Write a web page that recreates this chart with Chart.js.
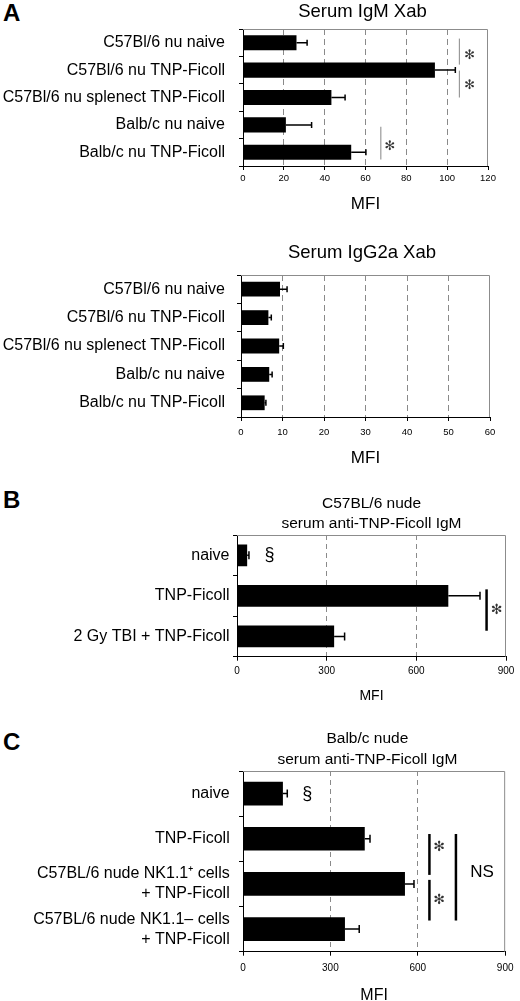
<!DOCTYPE html>
<html>
<head>
<meta charset="utf-8">
<script src="https://cdn.jsdelivr.net/npm/chart.js@4.4.1/dist/chart.umd.min.js"></script>
<style>
  html, body { margin: 0; padding: 0; background: #fff; }
  body { position: relative; width: 520px; height: 1001px; overflow: hidden; font-family: "Liberation Sans", Arial, sans-serif; }
  canvas { position: absolute; left: 0; }
  .tag { position: absolute; left: 3px; font-size: 24px; font-weight: bold; line-height: 1; color: #000; }
</style>
</head>
<body>
<div class="tag" style="top:1px">A</div>
<div class="tag" style="top:488px">B</div>
<div class="tag" style="top:730px">C</div>
<canvas id="igm"   width="520" height="215" style="top:0px"></canvas>
<canvas id="igg2a" width="520" height="229" style="top:240px"></canvas>
<canvas id="panelB" width="520" height="225" style="top:480px"></canvas>
<canvas id="panelC" width="520" height="280" style="top:725px"></canvas>
<script>
// ---- data ----
const mouseGroups = ['C57Bl/6 nu naive', 'C57Bl/6 nu TNP-Ficoll', 'C57Bl/6 nu splenect TNP-Ficoll',
                     'Balb/c nu naive', 'Balb/c nu TNP-Ficoll'];
const igmMean  = [26.2, 94, 43.3, 21, 53];
const igmUpper = [31.4, 104, 50, 33.6, 60.2];
const igmTicks = [0, 20, 40, 60, 80, 100, 120];

const igg2aMean  = [9.4, 6.6, 9.2, 6.8, 5.7];
const igg2aUpper = [11.1, 7.3, 10.2, 7.5, 6.0];
const igg2aTicks = [0, 10, 20, 30, 40, 50, 60];

const bGroups = ['naive', 'TNP-Ficoll', '2 Gy TBI + TNP-Ficoll'];
const bMean   = [34, 707, 325];
const bUpper  = [40, 813, 360];

const cGroups = ['naive', 'TNP-Ficoll',
                 ['C57BL/6 nude NK1.1\u207A cells', '+ TNP-Ficoll'],
                 ['C57BL/6 nude NK1.1\u2013 cells', '+ TNP-Ficoll']];
const cMean   = [137, 418, 556, 350];
const cUpper  = [152, 436, 587, 399];
const mfiTicks = [0, 300, 600, 900];

Chart.defaults.font.family = '"Liberation Sans", Arial, sans-serif';
Chart.defaults.color = '#000';

// error bars, frame, significance marks and titles
const extras = {
  id: 'extras',
  beforeDatasetsDraw(chart) {
    const a = chart.chartArea, c = chart.ctx;
    c.save();
    c.strokeStyle = '#8c8c8c';
    c.lineWidth = 1;
    c.beginPath();
    c.moveTo(a.left, a.top + 0.5);
    c.lineTo(a.right - 0.5, a.top + 0.5);
    c.lineTo(a.right - 0.5, a.bottom);
    c.stroke();
    c.restore();
  },
  afterDatasetsDraw(chart, args, o) {
    const c = chart.ctx, xs = chart.scales.x, ys = chart.scales.y;
    const a = chart.chartArea;
    const vals = chart.data.datasets[0].data;
    c.save();
    c.strokeStyle = '#000';
    c.lineWidth = 1.5;
    o.upper.forEach((u, i) => {
      const y = ys.getPixelForValue(i);
      const x0 = xs.getPixelForValue(vals[i]);
      const x1 = xs.getPixelForValue(u);
      c.beginPath();
      c.moveTo(x0, y); c.lineTo(x1, y);
      c.moveTo(x1, y - o.cap / 2); c.lineTo(x1, y + o.cap / 2);
      c.stroke();
    });
    (o.lines || []).forEach(l => {
      c.strokeStyle = l.color;
      c.lineWidth = l.width;
      const x = xs.getPixelForValue(l.x);
      c.beginPath();
      c.moveTo(x, ys.getPixelForValue(l.from));
      c.lineTo(x, ys.getPixelForValue(l.to));
      c.stroke();
    });
    c.textAlign = 'center';
    c.textBaseline = 'middle';
    (o.texts || []).forEach(t => {
      c.font = t.font;
      c.fillStyle = t.color || '#000';
      c.fillText(t.text, xs.getPixelForValue(t.x), ys.getPixelForValue(t.y));
    });
    c.fillStyle = '#000';
    c.font = o.titleFont;
    const cx = (a.left + a.right) / 2 + o.titleShift;
    o.title.forEach((t, k) => c.fillText(t, cx, o.titleY[k]));
    c.restore();
  }
};
Chart.register(extras);

function panel(id, cats, mean, ticks, geo, extra) {
  const cv = document.getElementById(id);
  const H = cv.height;
  const lo = ticks[0], hi = ticks[ticks.length - 1];
  return new Chart(cv, {
    type: 'bar',
    data: {
      labels: cats,
      datasets: [{ data: mean, backgroundColor: '#000', borderWidth: 0,
                   barPercentage: geo.bar, categoryPercentage: 1 }]
    },
    options: {
      indexAxis: 'y',
      responsive: false,
      animation: false,
      layout: { padding: { top: geo.top, right: 520 - geo.right, left: 0, bottom: 0 } },
      plugins: { legend: { display: false }, tooltip: { enabled: false }, extras: extra },
      scales: {
        x: {
          min: lo, max: hi,
          afterBuildTicks: s => { s.ticks = ticks.map(v => ({ value: v })); },
          afterFit: s => { s.height = H - geo.bottom; },
          grid: {
            color: ctx => (ctx.tick && (ctx.tick.value === lo || ctx.tick.value === hi)) ? 'rgba(0,0,0,0)' : '#8a8a8a',
            tickColor: '#000', tickLength: 4, lineWidth: 1
          },
          border: { color: '#000', dash: geo.dash },
          ticks: { font: { size: geo.tickSize }, color: '#000', padding: geo.tickPad, maxRotation: 0 },
          title: { display: true, text: 'MFI', font: { size: geo.mfiSize }, color: '#000', padding: 0 }
        },
        y: {
          afterFit: s => { s.width = geo.left; },
          grid: { drawOnChartArea: false, tickLength: 4, color: '#000' },
          border: { color: '#000' },
          ticks: { font: { size: 16, lineHeight: 1.25 }, color: '#000', padding: geo.labelPad, autoSkip: false }
        }
      }
    }
  });
}

const star = '13px "DejaVu Sans"';
const starB = '14px "DejaVu Sans"';
const sect = '18px "Liberation Sans", Arial';

panel('igm', mouseGroups, igmMean, igmTicks,
  { top: 29, bottom: 166, left: 243, right: 488, bar: 0.55, dash: [6, 4],
    tickSize: 9.5, tickPad: 3, mfiSize: 17, labelPad: 14 },
  { upper: igmUpper, cap: 6,
    title: ['Serum IgM Xab'], titleY: [12], titleFont: '18.5px "Liberation Sans", Arial', titleShift: -3,
    lines: [
      { x: 106, from: -0.15, to: 0.8, color: '#999', width: 1.2 },
      { x: 106, from: 1.02, to: 2.0, color: '#999', width: 1.2 },
      { x: 67.5, from: 3.07, to: 4.26, color: '#999', width: 1.2 }
    ],
    texts: [
      { x: 111, y: 0.46, text: '\u273B', font: star, color: '#333' },
      { x: 111, y: 1.56, text: '\u273B', font: star, color: '#333' },
      { x: 72, y: 3.8, text: '\u273B', font: star, color: '#333' }
    ] });

panel('igg2a', mouseGroups, igg2aMean, igg2aTicks,
  { top: 35, bottom: 177, left: 241, right: 490, bar: 0.52, dash: [6, 4],
    tickSize: 9.5, tickPad: 6, mfiSize: 17, labelPad: 12 },
  { upper: igg2aUpper, cap: 6,
    title: ['Serum IgG2a Xab'], titleY: [13], titleFont: '18.5px "Liberation Sans", Arial', titleShift: -3.5 });

panel('panelB', bGroups, bMean, mfiTicks,
  { top: 55, bottom: 176.7, left: 237, right: 506, bar: 0.535, dash: [5, 4],
    tickSize: 10, tickPad: 5, mfiSize: 14, labelPad: 3.5 },
  { upper: bUpper, cap: 8,
    title: ['C57BL/6 nude', 'serum anti-TNP-Ficoll IgM'], titleY: [23.5, 43.5],
    titleFont: '15.5px "Liberation Sans", Arial', titleShift: 0,
    lines: [ { x: 835, from: 0.84, to: 1.86, color: '#000', width: 2.5 } ],
    texts: [
      { x: 869, y: 1.35, text: '\u273B', font: starB, color: '#333' },
      { x: 109, y: -0.01, text: '\u00A7', font: sect }
    ] });

panel('panelC', cGroups, cMean, mfiTicks,
  { top: 46, bottom: 226.7, left: 243, right: 511, bar: 0.525, dash: [5, 4],
    tickSize: 10, tickPad: 6.5, mfiSize: 16, labelPad: 9.3 },
  { upper: cUpper, cap: 8,
    title: ['Balb/c nude', 'serum anti-TNP-Ficoll IgM'], titleY: [13.3, 34.3],
    titleFont: '15.5px "Liberation Sans", Arial', titleShift: -6.7,
    lines: [
      { x: 640, from: 0.895, to: 1.80, color: '#000', width: 2.5 },
      { x: 640, from: 1.91, to: 2.81, color: '#000', width: 2.5 },
      { x: 731, from: 0.895, to: 2.81, color: '#000', width: 2.5 }
    ],
    texts: [
      { x: 673, y: 1.18, text: '\u273B', font: starB, color: '#333' },
      { x: 673, y: 2.36, text: '\u273B', font: starB, color: '#333' },
      { x: 821, y: 1.74, text: 'NS', font: '17px "Liberation Sans", Arial' },
      { x: 221, y: 0.016, text: '\u00A7', font: sect }
    ] });
</script>
</body>
</html>
